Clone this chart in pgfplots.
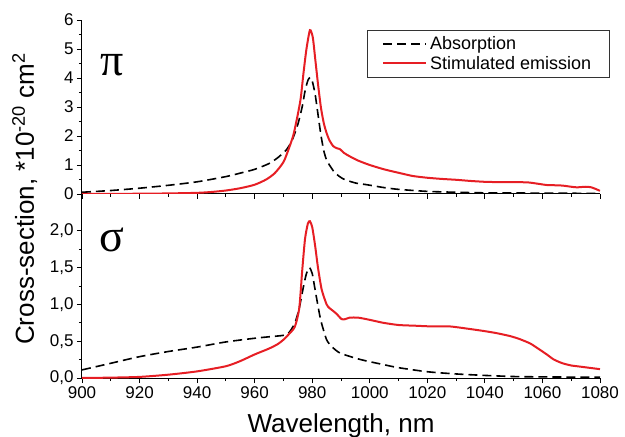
\documentclass[border=0pt]{standalone}
\usepackage{fontspec}
\setmainfont{Liberation Sans}
\newfontfamily\greekfont{Liberation Serif}
\usepackage{pgfplots}
\pgfplotsset{compat=1.18}
\definecolor{emred}{RGB}{230,30,36}

\pgfplotstableread{
x y
900 0.06
910 0.12
920 0.2
930 0.3
940 0.42
950 0.6
955 0.72
960 0.85
965 1.05
968 1.25
971 1.52
973 1.85
975 2.4
976.5 3.0
977.5 3.55
978.5 3.92
979.3 4.02
980 3.9
981 3.45
982 2.75
983 2.05
984 1.5
985 1.17
986.5 0.92
988 0.72
990.8 0.52
995 0.38
999 0.32
1005 0.22
1010 0.16
1020 0.09
1030 0.06
1040 0.04
1060 0.03
1080 0.02
}\piabs

\pgfplotstableread{
x y
900 0.0
920 0.01
930 0.02
940 0.04
945 0.07
950 0.12
955 0.2
960 0.32
964 0.5
967 0.72
970 1.1
972 1.6
973.5 2.05
975 2.75
976 3.3
977 4.2
978 5.0
979.2 5.65
980.2 5.4
981 4.7
982 3.8
983 3.0
984 2.45
985 2.1
986 1.85
987.3 1.65
988.5 1.58
989.6 1.55
991 1.42
993 1.3
996 1.15
1000 1.0
1005 0.85
1010.5 0.72
1015 0.62
1020 0.56
1025 0.52
1030 0.49
1035 0.45
1040 0.42
1045 0.41
1050 0.41
1055 0.40
1058 0.36
1061.5 0.31
1065 0.30
1067 0.29
1070 0.25
1072 0.23
1075 0.25
1077 0.23
1080 0.11
}\piem

\pgfplotstableread{
x y
900 0.11
910 0.2
920 0.29
930 0.36
940 0.42
950 0.49
960 0.54
965 0.56
970 0.58
972 0.62
974 0.75
975.5 0.95
977 1.25
978 1.42
979 1.50
980 1.42
981 1.2
982 0.98
983 0.78
985 0.52
987 0.42
989.6 0.34
995 0.27
999 0.23
1005 0.18
1010 0.14
1020 0.085
1030 0.055
1040 0.035
1050 0.02
1060 0.015
1080 0.01
}\sigabs

\pgfplotstableread{
x y
900 0.0
910 0.005
920 0.015
930 0.045
940 0.09
950 0.16
955 0.23
960 0.32
965 0.4
968 0.46
970 0.52
972 0.6
974 0.7
975.5 0.95
976.5 1.45
977.5 1.89
978.5 2.1
979.2 2.13
980 2.05
981 1.8
982 1.5
983.3 1.2
985 1.0
986 0.95
987.3 0.91
988.5 0.87
990.2 0.8
991.5 0.8
993 0.82
996 0.82
1000 0.79
1004.7 0.75
1010 0.72
1016 0.71
1022 0.70
1028 0.70
1034 0.67
1039.4 0.64
1044 0.61
1048.7 0.57
1052 0.53
1055.7 0.47
1058.5 0.40
1061.5 0.32
1064 0.25
1067 0.20
1070 0.17
1072 0.16
1076 0.14
1080 0.12
}\sigem

\tikzset{
  absline/.style={black, line width=1.6pt, dash pattern=on 9pt off 5pt},
  emline/.style={emred, line width=2pt},
}

\begin{document}
\begin{tikzpicture}
\path[use as bounding box] (-82pt,-59pt) rectangle (543pt,378pt);
\pgfplotsset{
  common/.style={
    scale only axis, width=518pt,
    xmin=900, xmax=1080,
    axis lines*=left,
    axis line style={line width=1pt, black},
    xtick={900,920,...,1080},
    minor x tick num=1,
    minor y tick num=1,
    tick align=outside,
    major tick length=5pt, minor tick length=3pt,
    every tick/.style={black, line width=0.8pt},
    tick label style={font=\fontsize{17}{20}\selectfont},
    /pgf/number format/assume math mode=true,
    xticklabel style={/pgf/number format/1000 sep={}},
  }
}
\begin{axis}[common,
  at={(0pt,0pt)}, anchor=south west,
  height=184pt,
  ymin=0, ymax=2.5,
  ytick={0,0.5,1,1.5,2},
  yticklabel style={/pgf/number format/.cd, fixed, fixed zerofill, precision=1, use comma},
]
\addplot[absline, smooth, tension=0.4] table {\sigabs};
\addplot[emline, smooth, tension=0.4] table {\sigem};
\node[font=\greekfont\fontsize{46}{50}\selectfont, inner sep=0pt] at (axis cs:910.4,1.88) {σ};
\end{axis}
\begin{axis}[common,
  at={(0pt,184pt)}, anchor=south west,
  height=174pt,
  ymin=0, ymax=6,
  ytick={0,1,...,6},
  xticklabels={},
  legend style={at={(rel axis cs:1.018,0.943)}, anchor=north east,
    draw=black!80,
    font=\fontsize{18}{21}\selectfont,
    inner xsep=15pt, inner ysep=4.5pt, row sep=1pt,
    nodes={inner xsep=3pt, inner ysep=2pt}},
  legend cell align=left,
  legend image code/.code={\draw[#1, line width=1.9pt] (0pt,0pt) -- (43pt,0pt);},
]
\addplot[absline, smooth, tension=0.4] table {\piabs};
\addlegendentry{Absorption}
\addplot[emline, smooth, tension=0.4] table {\piem};
\addlegendentry{Stimulated emission}
\node[font=\greekfont\fontsize{46}{50}\selectfont, inner sep=0pt] at (axis cs:910.4,4.45) {π};
\end{axis}
\node[anchor=base, font=\fontsize{26}{30}\selectfont] at (259pt,-54pt) {Wavelength, nm};
\node[rotate=90, anchor=base, font=\fontsize{26}{30}\selectfont] at (-48pt,179pt) {Cross-section, *10\textsuperscript{-20} cm\textsuperscript{2}};
\end{tikzpicture}
\end{document}
